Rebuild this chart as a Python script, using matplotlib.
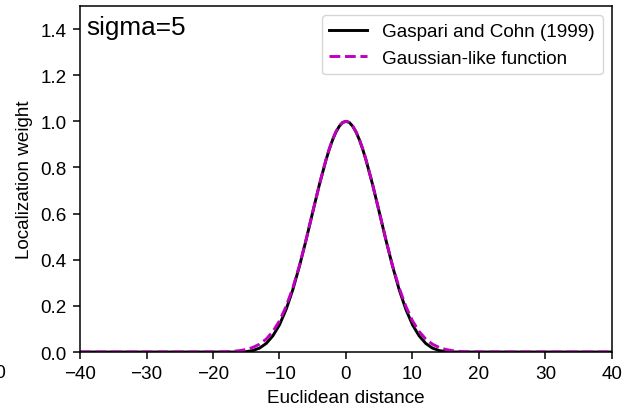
import matplotlib
matplotlib.use("Agg")
import matplotlib.pyplot as plt

plt.rcParams['font.family'] = ['Liberation Sans', 'DejaVu Sans']
plt.rcParams['font.size'] = 13.6

# distances and weights
dist = [-40, -20, -19, -18, -17, -16, -15, -14, -13, -12, -11, -10, -9, -8, -7, -6, -5, -4, -3, -2.5, -2,
        -1.5, -1, -0.5, 0, 0.5, 1, 1.5, 2, 2.5, 3, 4, 5, 6, 7, 8, 9, 10, 11, 12, 13, 14, 15, 16, 17, 18,
        19, 20, 40]
gc_weight = [0, 0, 0, 0, 0, 0.0002, 0.0016, 0.0064, 0.017, 0.037, 0.070, 0.118, 0.185, 0.270, 0.372, 0.486,
             0.607, 0.726, 0.833, 0.880, 0.921, 0.954, 0.979, 0.995,
             1.0, 0.995, 0.979, 0.954, 0.921, 0.880, 0.833, 0.726, 0.607, 0.486, 0.372, 0.270, 0.185,
             0.118, 0.070, 0.037, 0.017, 0.0064, 0.0016, 0.0002, 0, 0, 0, 0, 0]
gauss_weight = [0, 0.0003, 0.0007, 0.0015, 0.003, 0.006, 0.011, 0.020, 0.034, 0.056, 0.089, 0.135, 0.198,
                0.278, 0.375, 0.487, 0.607, 0.726, 0.835, 0.882, 0.923, 0.956, 0.980, 0.995,
                1.0, 0.995, 0.980, 0.956, 0.923, 0.882, 0.835, 0.726, 0.607, 0.487, 0.375, 0.278, 0.198,
                0.135, 0.089, 0.056, 0.034, 0.020, 0.011, 0.006, 0.003, 0.0015, 0.0007, 0.0003, 0]

fig = plt.figure(figsize=(6.28, 4.10), dpi=100)
ax = fig.add_axes([0.1274, 0.139, 0.8471, 0.844])

ax.plot(dist, gc_weight, color="black", lw=2.1, label="Gaspari and Cohn (1999)")
ax.plot(dist, gauss_weight, color="m", lw=2.1, ls="--", label="Gaussian-like function")

ax.set_xlim(-40, 40)
ax.set_ylim(0, 1.5)
ax.set_xlabel("Euclidean distance", labelpad=5)
ax.set_ylabel("Localization weight", labelpad=5.5)
ax.tick_params(length=4.8, width=1.1, pad=4.8)
for s in ax.spines.values():
    s.set_linewidth(1.1)
ax.text(0.012, 0.975, "sigma=5", transform=ax.transAxes, fontsize=18.8, va="top")
ax.legend(loc="upper right", fontsize=13.6)

# clipped tick label from a neighbouring panel
fig.text(-0.0223, 0.11, "40", va="top")

fig.savefig("out.png")
